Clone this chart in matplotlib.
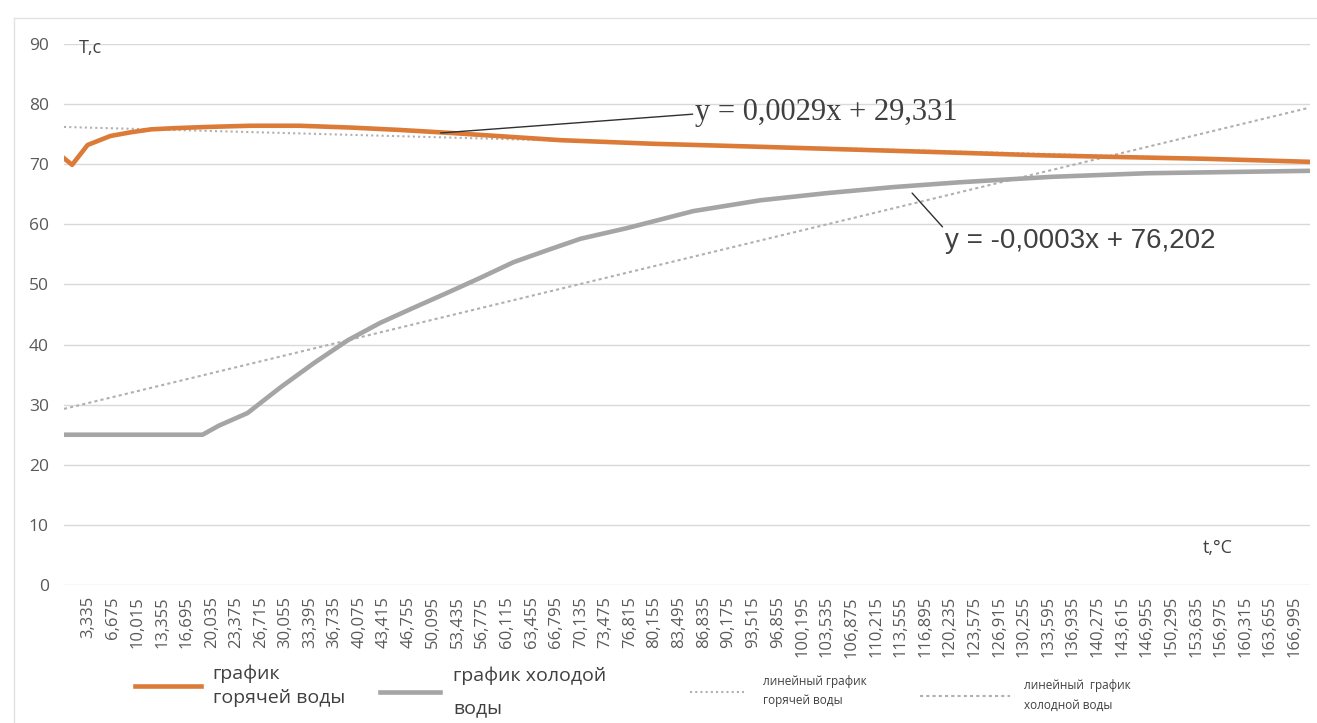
import matplotlib.pyplot as plt
from matplotlib.lines import Line2D

plt.rcParams['font.family'] = ['Open Sans', 'DejaVu Sans']

# time
hot_t = [0, 1.1, 3.2, 6.3, 9, 11.8, 15, 19.4, 25.3, 32, 38.9, 45.6, 52.5, 60,
         67.4, 80, 94.5, 108, 121.6, 132, 143, 155, 169]
hot_T = [71.0, 69.9, 73.2, 74.7, 75.3, 75.8, 76.0, 76.2, 76.4, 76.4, 76.1, 75.7,
         75.2, 74.6, 74.0, 73.4, 72.9, 72.4, 71.9, 71.5, 71.2, 70.9, 70.4]

cold_t = [0, 18.8, 21, 24.9, 29.4, 33.9, 38.5, 42.9, 47.4, 52, 56.5, 61, 65.6,
          70.1, 76.5, 85.4, 94.5, 103.6, 112.6, 121.6, 134, 147, 169]
cold_T = [25, 25, 26.5, 28.6, 32.9, 36.9, 40.7, 43.6, 46.1, 48.6, 51.1, 53.7,
          55.7, 57.6, 59.4, 62.2, 64.0, 65.2, 66.2, 67.0, 67.9, 68.5, 68.9]

# linear trends (end points)
trend_t = [0, 169]
hot_trend = [76.2, 70.5]
cold_trend = [29.3, 79.4]

tick_pos = [3.335 + 3.34 * k for k in range(50)]
tick_labels = [f"{v:.3f}".replace('.', ',') for v in tick_pos]

fig = plt.figure(figsize=(13.17, 7.23), dpi=100)
ax = fig.add_axes([64 / 1317, 1 - 585 / 723, (1310 - 64) / 1317, (585 - 44) / 723])

l_ht, = ax.plot(trend_t, hot_trend, color='#b0b0b0', lw=1.5, ls=(0, (1, 1.5)))
l_ct, = ax.plot(trend_t, cold_trend, color='#b0b0b0', lw=1.5, ls=(0, (1.5, 1.5)))
l_hot, = ax.plot(hot_t, hot_T, color='#DC7B38', lw=3.3)
l_cold, = ax.plot(cold_t, cold_T, color='#A5A5A5', lw=3.3)

ax.set_xlim(0, 169.1)
ax.set_ylim(0, 90)
ax.set_yticks(range(0, 91, 10))
ax.set_xticks(tick_pos)
ax.set_xticklabels(tick_labels, rotation=90, fontsize=12, color='#595959')
ax.tick_params(axis='y', labelsize=12.5, labelcolor='#595959', length=0, pad=11)
ax.tick_params(axis='x', length=0, pad=8)
ax.grid(axis='y', color='#d9d9d9', lw=1)
ax.set_axisbelow(True)
for s in ax.spines.values():
    s.set_visible(False)

ax.text(2.0, 89.4, 'T,c', fontsize=13, color='#404040', va='center')
ax.text(154.6, 6.2, 't,°C', fontsize=13, color='#404040', va='center')

ax.annotate('y = 0,0029x + 29,331', xy=(51.1, 75.2), xytext=(85.7, 78.6),
            fontsize=22, family='Liberation Serif', color='#404040', va='center',
            arrowprops=dict(arrowstyle='-', color='#303030', lw=1,
                            shrinkA=0, shrinkB=0, relpos=(0, 0.45)))
ax.annotate('y = -0,0003x + 76,202', xy=(115.1, 65.2), xytext=(119.6, 57.2),
            fontsize=20, family='Liberation Sans', color='#404040', va='center',
            arrowprops=dict(arrowstyle='-', color='#303030', lw=1,
                            shrinkA=0, shrinkB=0, relpos=(0.02, 0.7)))

# legend entries: handle, label, left px, centre y px, font size, handle length, text pad, line spacing
legend_items = [
    (l_hot, 'график\nгорячей воды', 135, 686, 14, 3.4, 0.6, 1.4),
    (l_cold, 'график холодой\nводы', 380, 692, 14, 3.1, 0.65, 2.0),
    (l_ht, 'линейный график\nгорячей воды', 690, 691, 8.5, 4.6, 1.6, 1.6),
    (l_ct, 'линейный  график\nхолодной воды', 920, 695, 8.5, 7.6, 1.2, 1.7),
]
for h, lab, x0, yc, fs, hl, tp, lsp in legend_items:
    lg = fig.legend(handles=[h], labels=[lab], loc='center left',
                    bbox_to_anchor=(x0 / 1317, 1 - yc / 723), frameon=False,
                    fontsize=fs, handlelength=hl, handletextpad=tp,
                    borderpad=0, borderaxespad=0)
    for t in lg.get_texts():
        t.set_linespacing(lsp)
        t.set_color('#404040')

# screenshot frame lines
fig.add_artist(Line2D([14 / 1317, 1], [1 - 18 / 723] * 2, color='#e3e3e3', lw=1))
fig.add_artist(Line2D([14 / 1317] * 2, [0, 1 - 18 / 723], color='#e3e3e3', lw=1))

fig.savefig('out.png', dpi=100)
